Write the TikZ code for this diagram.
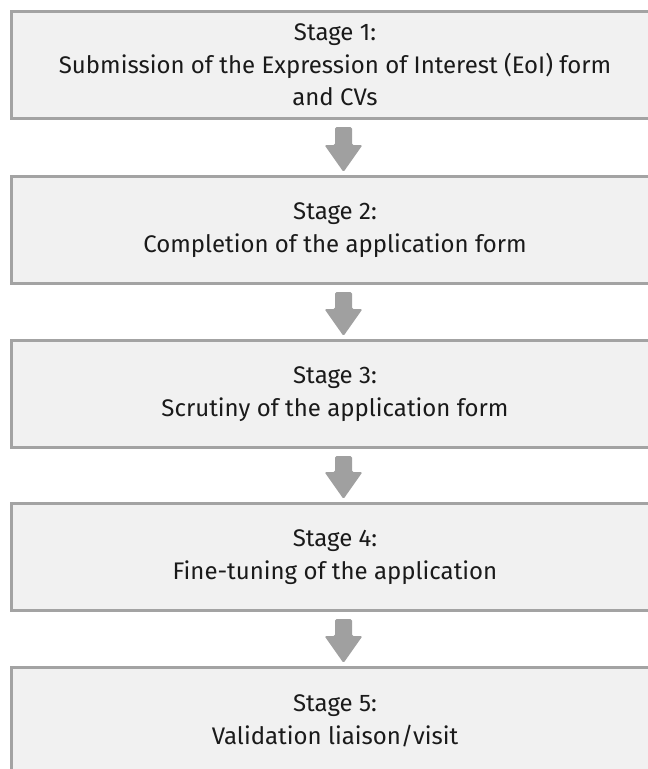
\documentclass[tikz,border=0pt]{standalone}
\usepackage{fontspec}
\setmainfont{Fira Sans}
\usetikzlibrary{calc}
\definecolor{boxfill}{HTML}{F1F1F1}
\definecolor{boxline}{HTML}{A3A3A3}
\definecolor{arrowgray}{HTML}{A0A0A0}
\definecolor{textcol}{HTML}{1A1A1A}
\tikzset{
  stagebox/.style={draw=boxline, line width=3pt, fill=boxfill, rectangle,
    minimum width=647pt, minimum height=107pt, inner sep=0pt,
    align=center, text=textcol,
    font=\fontsize{24pt}{32.5pt}\selectfont},
  flowarrow/.style={fill=arrowgray, rounded corners=1.5pt}
}
\newcommand{\stagearrow}[2]{%
  \fill[flowarrow]
    ([xshift=0pt]$(#1.south)+(0pt,-7pt)$) -- ([xshift=17pt]$(#1.south)+(0pt,-7pt)$)
    -- ([xshift=17pt,yshift=27pt]$(#2.north)+(0pt,3pt)$)
    -- ([xshift=27.5pt,yshift=27pt]$(#2.north)+(0pt,3pt)$)
    -- ([xshift=8.5pt]$(#2.north)+(0pt,3pt)$)
    -- ([xshift=-10.5pt,yshift=27pt]$(#2.north)+(0pt,3pt)$)
    -- ([xshift=0pt,yshift=27pt]$(#2.north)+(0pt,3pt)$) -- cycle;}
\begin{document}
\begin{tikzpicture}
\useasboundingbox (0pt,0pt) rectangle (648pt,-769pt);
\node[stagebox] (b1) at (335pt,-65pt) {Stage 1:\\Submission of the Expression of Interest (EoI) form\\and CVs};
\node[stagebox] (b2) at (335pt,-230pt) {Stage 2:\\Completion of the application form};
\node[stagebox] (b3) at (335pt,-394pt) {Stage 3:\\Scrutiny of the application form};
\node[stagebox] (b4) at (335pt,-557pt) {Stage 4:\\Fine-tuning of the application};
\node[stagebox] (b5) at (335pt,-721pt) {Stage 5:\\Validation liaison/visit};
\stagearrow{b1}{b2}
\stagearrow{b2}{b3}
\stagearrow{b3}{b4}
\stagearrow{b4}{b5}
\end{tikzpicture}
\end{document}
